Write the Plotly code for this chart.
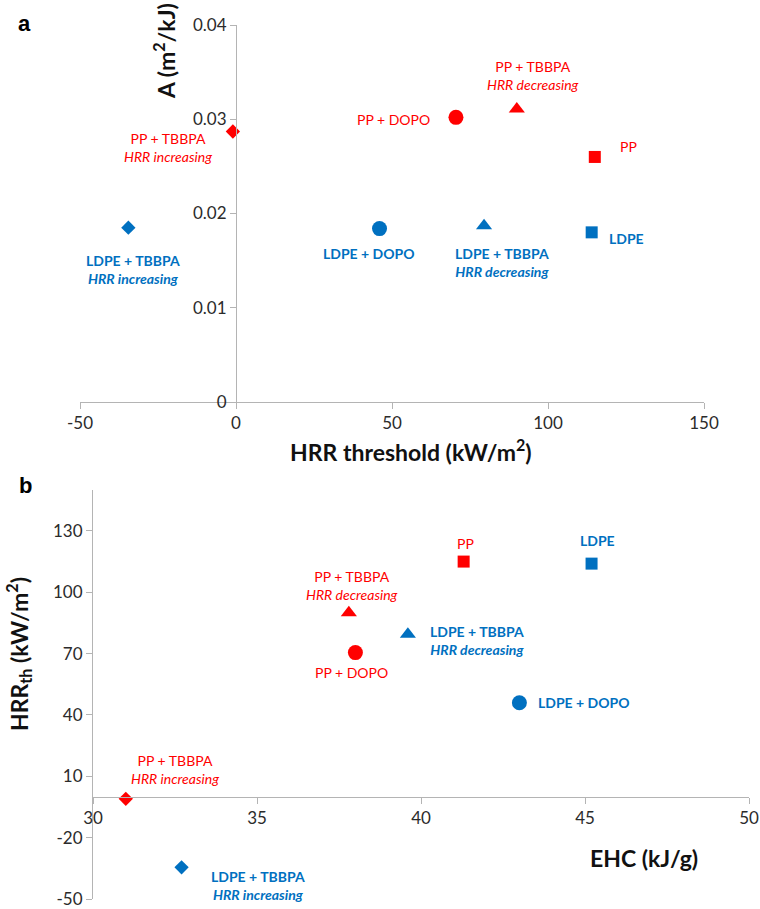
import plotly.graph_objects as go

# ---- data ----
materials = ["PP", "LDPE", "PP + DOPO", "LDPE + DOPO",
             "PP + TBBPA dec", "LDPE + TBBPA dec", "PP + TBBPA inc", "LDPE + TBBPA inc"]
label_line1 = ["PP", "LDPE", "PP + DOPO", "LDPE + DOPO",
               "PP + TBBPA", "LDPE + TBBPA", "PP + TBBPA", "LDPE + TBBPA"]
label_line2 = ["", "", "", "", "HRR decreasing", "HRR decreasing", "HRR increasing", "HRR increasing"]
polymer = ["PP", "LDPE", "PP", "LDPE", "PP", "LDPE", "PP", "LDPE"]
hrr_threshold = [115.0, 114.0, 70.5, 46.0, 90.0, 79.5, -1.0, -34.5]      # kW/m2
a_value = [0.0260, 0.0180, 0.0302, 0.0184, 0.0311, 0.0187, 0.0287, 0.0185]  # m2/kJ
ehc = [41.3, 45.2, 38.0, 43.0, 37.8, 39.6, 31.0, 32.7]                 # kJ/g

top_x_range = [-50, 150]
top_x_ticks = [-50, 0, 50, 100, 150]
top_x_ticktext = ["-50", "0", "50", "100", "150"]
top_y_range = [0, 0.04]
top_y_ticks = [0, 0.01, 0.02, 0.03, 0.04]
top_y_ticktext = ["0", "0.01", "0.02", "0.03", "0.04"]
bot_x_range = [30, 50]
bot_x_ticks = [30, 35, 40, 45, 50]
bot_x_ticktext = ["30", "35", "40", "45", "50"]
bot_y_range = [-50, 150]
bot_y_ticks = [-50, -20, 10, 40, 70, 100, 130]
bot_y_ticktext = ["-50", "-20", "10", "40", "70", "100", "130"]

# ---- styles ----
colors = {"PP": "#FF0000", "LDPE": "#0070C0"}
symbols = ["square", "square", "circle", "circle", "triangle-up", "triangle-up", "diamond", "diamond"]
sizes = {"square": 12, "circle": 15, "triangle-up": 14, "diamond": 11}
# label offsets in pixels (dx, dy up-positive)
top_off = [(34, 10), (35, -6), (-62, -2), (-11, -25), (16, 33), (18, -37), (-65, -16), (5, -42)]
bot_off = [(2, 18), (6, 23), (-4, -20), (65, 0), (3, 27), (69, -6), (49, 29), (76, -18)]

FONT = "Lato"
AXIS_COLOR = "#B4B4B4"
TICK_FONT = dict(family=FONT, size=17, color="#2b2b2b")

W, H = 760, 909
top_dx = [80 / W, 704 / W]
top_dy = [1 - 402 / H, 1 - 25 / H]
bot_dx = [93 / W, 749 / W]
bot_dy = [1 - 899 / H, 1 - 490 / H]

top_y_pos = top_dx[0] + (0 - top_x_range[0]) / (top_x_range[1] - top_x_range[0]) * (top_dx[1] - top_dx[0])
bot_x_pos = bot_dy[0] + (0 - bot_y_range[0]) / (bot_y_range[1] - bot_y_range[0]) * (bot_dy[1] - bot_dy[0])

fig = go.Figure()
annotations = []


def label_text(i):
    t1 = label_line1[i]
    t2 = label_line2[i]
    txt = t1 if not t2 else t1 + "<br><i>" + t2 + "</i>"
    if polymer[i] == "LDPE":
        txt = "<b>" + txt + "</b>"
    return txt


for i, m in enumerate(materials):
    c = colors[polymer[i]]
    s = symbols[i]
    fig.add_trace(go.Scatter(x=[hrr_threshold[i]], y=[a_value[i]], mode="markers", name=m,
                             marker=dict(symbol=s, size=sizes[s], color=c, line=dict(width=0)),
                             xaxis="x", yaxis="y", showlegend=False, cliponaxis=False))
    fig.add_trace(go.Scatter(x=[ehc[i]], y=[hrr_threshold[i]], mode="markers", name=m,
                             marker=dict(symbol=s, size=sizes[s], color=c, line=dict(width=0)),
                             xaxis="x2", yaxis="y2", showlegend=False, cliponaxis=False))
    annotations.append(dict(x=hrr_threshold[i], y=a_value[i], xref="x", yref="y",
                            text=label_text(i), showarrow=False, xanchor="center", yanchor="middle",
                            xshift=top_off[i][0], yshift=top_off[i][1],
                            font=dict(family=FONT, size=14, color=c), align="center"))
    annotations.append(dict(x=ehc[i], y=hrr_threshold[i], xref="x2", yref="y2",
                            text=label_text(i), showarrow=False, xanchor="center", yanchor="middle",
                            xshift=bot_off[i][0], yshift=bot_off[i][1],
                            font=dict(family=FONT, size=14, color=c), align="center"))

TITLE_FONT = dict(family=FONT, size=23, color="#111111")
annotations += [
    dict(x=164 / W, y=1 - 51 / H, xref="paper", yref="paper", text="<b>A (m<sup>2</sup>/kJ)</b>", textangle=-90,
         showarrow=False, xanchor="center", yanchor="middle", font=TITLE_FONT),
    dict(x=411 / W, y=1 - 450 / H, xref="paper", yref="paper", text="<b>HRR threshold (kW/m<sup>2</sup>)</b>",
         showarrow=False, xanchor="center", yanchor="middle", font=TITLE_FONT),
    dict(x=18 / W, y=1 - 654 / H, xref="paper", yref="paper", text="<b>HRR<sub>th</sub> (kW/m<sup>2</sup>)</b>",
         textangle=-90, showarrow=False, xanchor="center", yanchor="middle", font=TITLE_FONT),
    dict(x=644 / W, y=1 - 858 / H, xref="paper", yref="paper", text="<b>EHC (kJ/g)</b>",
         showarrow=False, xanchor="center", yanchor="middle", font=TITLE_FONT),
    dict(x=24 / W, y=1 - 23 / H, xref="paper", yref="paper", text="<b>a</b>",
         showarrow=False, xanchor="center", yanchor="middle", font=dict(family="Liberation Sans", size=22, color="#000")),
    dict(x=25 / W, y=1 - 485 / H, xref="paper", yref="paper", text="<b>b</b>",
         showarrow=False, xanchor="center", yanchor="middle", font=dict(family="Liberation Sans", size=22, color="#000")),
]

axis_common = dict(showline=True, linecolor=AXIS_COLOR, linewidth=1, ticks="outside", ticklen=6,
                   tickcolor=AXIS_COLOR, showgrid=False, zeroline=False, tickfont=TICK_FONT,
                   automargin=False, tickmode="array", ticklabeloverflow="allow")

fig.update_layout(
    width=W, height=H, margin=dict(l=0, r=0, t=0, b=0, autoexpand=False),
    paper_bgcolor="white", plot_bgcolor="white",
    xaxis=dict(domain=top_dx, anchor="y", range=top_x_range, tickvals=top_x_ticks,
               ticktext=top_x_ticktext, **axis_common),
    yaxis=dict(domain=top_dy, anchor="free", position=top_y_pos, range=top_y_range,
               tickvals=top_y_ticks, ticktext=top_y_ticktext, **axis_common),
    xaxis2=dict(domain=bot_dx, anchor="free", position=bot_x_pos, range=bot_x_range,
                tickvals=bot_x_ticks, ticktext=bot_x_ticktext, **axis_common),
    yaxis2=dict(domain=bot_dy, anchor="x2", range=bot_y_range, tickvals=bot_y_ticks,
                ticktext=bot_y_ticktext, **axis_common),
    annotations=annotations,
)

fig.write_html("out.html")
